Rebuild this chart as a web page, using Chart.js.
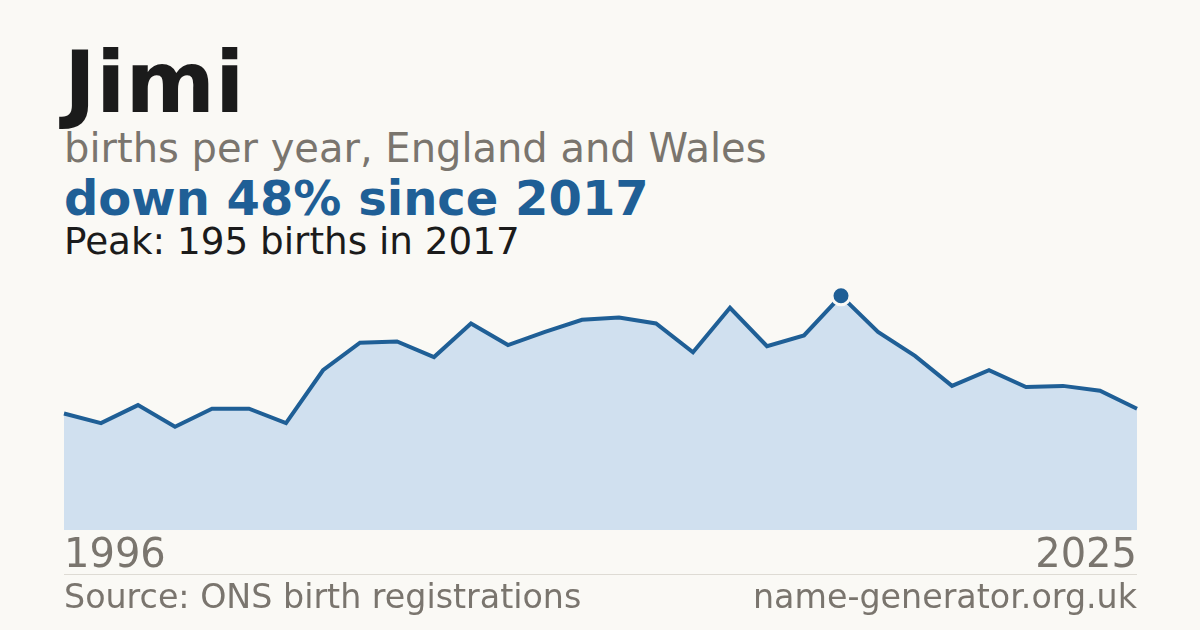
<!DOCTYPE html>
<html>
<head>
<meta charset="utf-8">
<script src="https://cdn.jsdelivr.net/npm/chart.js@4.4.1/dist/chart.umd.min.js"></script>
<style>
  html, body { margin: 0; padding: 0; }
  body { width: 1200px; height: 630px; background: #faf9f5; position: relative; overflow: hidden; font-family: "DejaVu Sans", sans-serif; }
  .t { position: absolute; left: 64px; white-space: nowrap; line-height: 1; }
  #title { top: 39px; font-size: 86px; font-weight: bold; color: #1b1b1b; }
  #sub { top: 128px; font-size: 40px; color: #7a756e; }
  #change { top: 174px; font-size: 48px; font-weight: bold; color: #1f5f96; }
  #peak { top: 223px; font-size: 37.3px; color: #1b1b1b; }
  #rule { position: absolute; left: 64px; width: 1073px; top: 574px; height: 1px; background: #dedbd4; }
  .foot { position: absolute; top: 580px; font-size: 33.3px; color: #7a756e; line-height: 1; white-space: nowrap; }
  #src { left: 64px; }
  #site { right: 63px; }
  #wrap { position: absolute; left: 0; top: 285px; width: 1200px; height: 295px; }
</style>
</head>
<body>
<div class="t" id="title">Jimi</div>
<div class="t" id="sub">births per year, England and Wales</div>
<div class="t" id="change">down 48% since 2017</div>
<div class="t" id="peak">Peak: 195 births in 2017</div>
<div id="wrap"><canvas id="c"></canvas></div>
<div id="rule"></div>
<div class="foot" id="src">Source: ONS birth registrations</div>
<div class="foot" id="site">name-generator.org.uk</div>
<script>
const years = [1996,1997,1998,1999,2000,2001,2002,2003,2004,2005,2006,2007,2008,2009,2010,2011,2012,2013,2014,2015,2016,2017,2018,2019,2020,2021,2022,2023,2024,2025];
const births = [97,89,104,86,101,101,89,133,156,157,144,172,154,165,175,177,172,148,185,153,162,195,165,145,120,133,119,120,116,101];
const peakYear = 2017;

const bg = '#faf9f5';
const blue = '#1f5f96';
const labels = years.map(String);
const peakIdx = years.indexOf(peakYear);

new Chart(document.getElementById('c'), {
  type: 'line',
  data: {
    labels: labels,
    datasets: [{
      data: births,
      borderColor: blue,
      borderWidth: 4,
      backgroundColor: '#d0e0ef',
      fill: 'origin',
      tension: 0,
      pointRadius: births.map((v, i) => i === peakIdx ? 9 : 0),
      pointBackgroundColor: blue,
      pointBorderColor: bg,
      pointBorderWidth: 3,
      pointHoverRadius: 0,
      clip: 12
    }]
  },
  options: {
    responsive: true,
    maintainAspectRatio: false,
    animation: false,
    layout: { padding: { left: 64, right: 63, top: 0, bottom: 0 } },
    plugins: { legend: { display: false }, tooltip: { enabled: false } },
    events: [],
    scales: {
      y: { display: false, min: 0, max: 204 },
      x: {
        offset: false,
        grid: { display: false, drawTicks: false },
        border: { display: false },
        afterFit: s => { s.height = 50; },
        ticks: {
          autoSkip: false,
          maxRotation: 0,
          align: 'inner',
          padding: 3,
          color: '#7a756e',
          font: { family: 'DejaVu Sans', size: 40 },
          callback: (v, i) => (i === 0 || i === labels.length - 1) ? labels[i] : ''
        }
      }
    }
  }
});
</script>
</body>
</html>
